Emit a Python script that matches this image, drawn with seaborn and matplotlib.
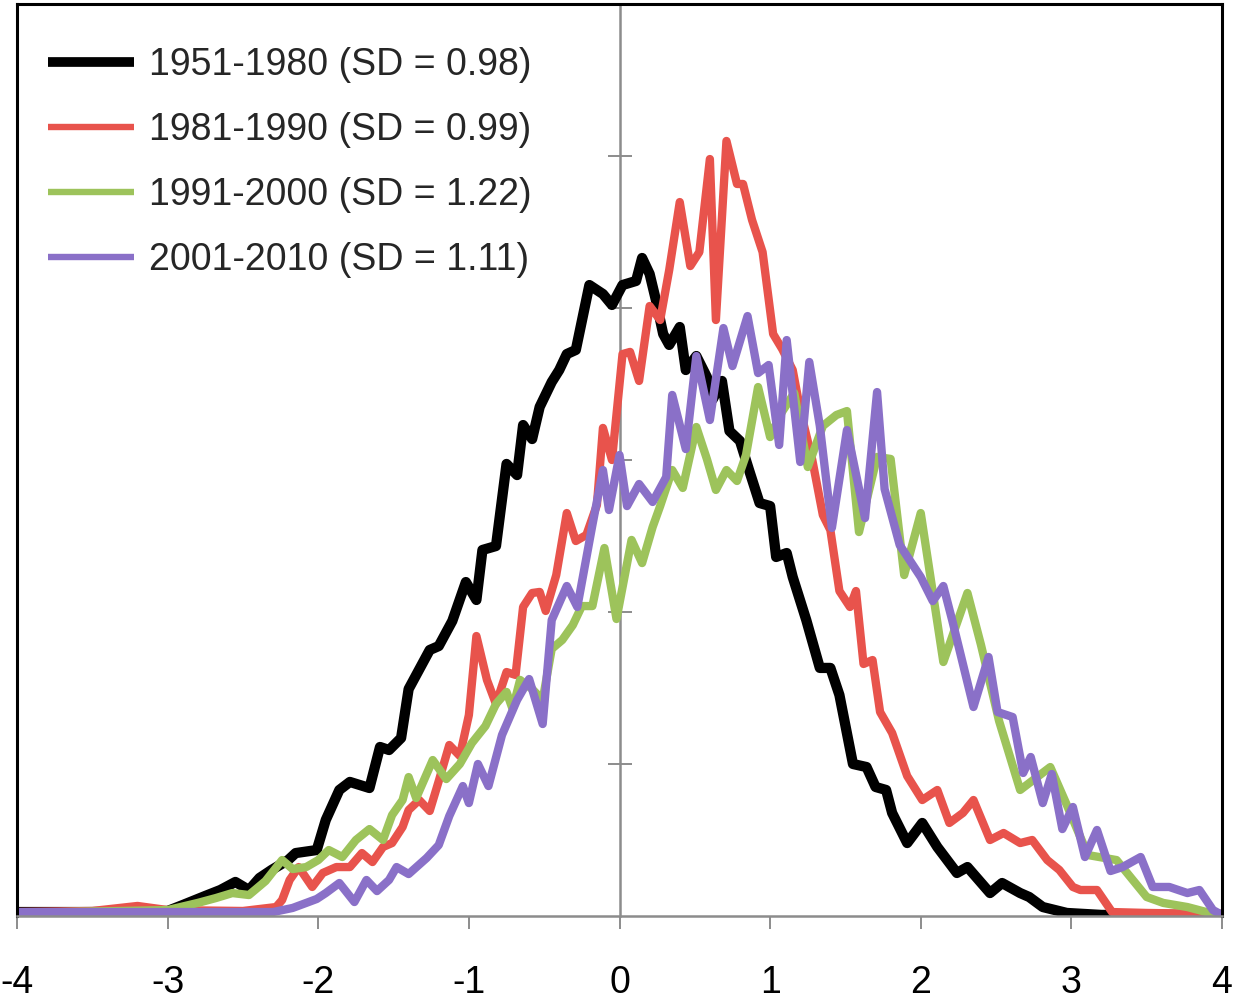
import matplotlib
matplotlib.use("Agg")
import matplotlib.pyplot as plt
import pandas as pd
import seaborn as sns

# Local temperature anomaly (in units of standard deviation) and frequency of occurrence
periods = ["1951-1980", "1981-1990", "1991-2000", "2001-2010"]
sd_values = [0.98, 0.99, 1.22, 1.11]

x_1951 = [-4.0, -3.5, -3.0, -2.9, -2.75, -2.65, -2.55, -2.46, -2.39, -2.31, -2.2, -2.15,
          -2.01, -1.95, -1.86, -1.79, -1.66, -1.59, -1.53, -1.45, -1.4, -1.26, -1.2, -1.11,
          -1.02, -0.95, -0.91, -0.82, -0.75, -0.68, -0.64, -0.58, -0.53, -0.45, -0.4, -0.35,
          -0.29, -0.25, -0.2, -0.11, -0.05, 0.02, 0.11, 0.15, 0.2, 0.24, 0.29, 0.33, 0.4,
          0.44, 0.51, 0.58, 0.62, 0.68, 0.73, 0.8, 0.86, 0.93, 1.0, 1.04, 1.11, 1.15, 1.24,
          1.33, 1.4, 1.46, 1.55, 1.64, 1.7, 1.77, 1.81, 1.91, 2.01, 2.11, 2.24, 2.31, 2.46,
          2.54, 2.66, 2.72, 2.81, 2.97, 3.2, 4.0]
f_1951 = [0.0026, 0.0026, 0.0033, 0.0072, 0.0132, 0.0171, 0.0224, 0.0171, 0.0250, 0.0303,
          0.0368, 0.0414, 0.0434, 0.0632, 0.0829, 0.0882, 0.0842, 0.1112, 0.1092, 0.1171,
          0.1493, 0.1750, 0.1776, 0.1941, 0.2197, 0.2079, 0.2408, 0.2434, 0.2974, 0.2901,
          0.3230, 0.3138, 0.3349, 0.3513, 0.3592, 0.3697, 0.3724, 0.3914, 0.4151, 0.4092,
          0.4020, 0.4151, 0.4178, 0.4329, 0.4224, 0.4059, 0.3829, 0.3757, 0.3875, 0.3592,
          0.3684, 0.3546, 0.3401, 0.3520, 0.3191, 0.3125, 0.2934, 0.2717, 0.2697, 0.2362,
          0.2388, 0.2230, 0.1947, 0.1632, 0.1632, 0.1454, 0.1000, 0.0980, 0.0849, 0.0829,
          0.0678, 0.0480, 0.0612, 0.0454, 0.0283, 0.0322, 0.0151, 0.0217, 0.0151, 0.0125,
          0.0059, 0.0020, 0.0007, 0.0007]

x_1981 = [-4.0, -3.5, -3.2, -3.0, -2.5, -2.28, -2.24, -2.19, -2.13, -2.04, -1.97, -1.88,
          -1.79, -1.71, -1.64, -1.57, -1.51, -1.44, -1.4, -1.33, -1.26, -1.2, -1.13, -1.06,
          -1.0, -0.95, -0.88, -0.82, -0.75, -0.69, -0.64, -0.58, -0.53, -0.49, -0.42, -0.35,
          -0.29, -0.22, -0.15, -0.11, -0.05, 0.02, 0.07, 0.13, 0.2, 0.27, 0.33, 0.4, 0.47,
          0.53, 0.6, 0.64, 0.71, 0.78, 0.82, 0.88, 0.95, 1.02, 1.08, 1.15, 1.2, 1.28, 1.35,
          1.4, 1.46, 1.53, 1.57, 1.62, 1.68, 1.73, 1.81, 1.91, 2.01, 2.11, 2.19, 2.28, 2.35,
          2.46, 2.55, 2.66, 2.74, 2.84, 2.92, 3.01, 3.06, 3.17, 3.27, 3.5, 4.0]
f_1981 = [0.0026, 0.0033, 0.0066, 0.0039, 0.0033, 0.0059, 0.0105, 0.0237, 0.0322, 0.0191,
          0.0283, 0.0322, 0.0322, 0.0414, 0.0355, 0.0454, 0.0480, 0.0586, 0.0697, 0.0763,
          0.0691, 0.0888, 0.1125, 0.1053, 0.1322, 0.1842, 0.1553, 0.1395, 0.1605, 0.1586,
          0.2033, 0.2125, 0.2132, 0.2007, 0.2243, 0.2651, 0.2467, 0.2507, 0.2704, 0.3211,
          0.3000, 0.3697, 0.3711, 0.3520, 0.4013, 0.3921, 0.4250, 0.4697, 0.4276, 0.4368,
          0.4980, 0.3921, 0.5099, 0.4816, 0.4816, 0.4579, 0.4368, 0.3829, 0.3730, 0.3592,
          0.3329, 0.3000, 0.2638, 0.2539, 0.2138, 0.2033, 0.2138, 0.1658, 0.1684, 0.1342,
          0.1204, 0.0921, 0.0763, 0.0829, 0.0612, 0.0678, 0.0763, 0.0500, 0.0546, 0.0480,
          0.0500, 0.0368, 0.0303, 0.0191, 0.0171, 0.0171, 0.0026, 0.0020, 0.0013]

x_1991 = [-4.0, -3.0, -2.8, -2.68, -2.57, -2.46, -2.35, -2.24, -2.17, -2.08, -2.0, -1.93,
          -1.84, -1.75, -1.66, -1.57, -1.51, -1.44, -1.4, -1.35, -1.24, -1.15, -1.06, -0.98,
          -0.89, -0.82, -0.75, -0.71, -0.66, -0.58, -0.51, -0.45, -0.38, -0.31, -0.25,
          -0.18, -0.1, -0.02, 0.08, 0.15, 0.22, 0.27, 0.35, 0.42, 0.51, 0.58, 0.64, 0.71,
          0.78, 0.84, 0.92, 1.0, 1.07, 1.16, 1.25, 1.35, 1.44, 1.51, 1.59, 1.71, 1.8, 1.89,
          2.0, 2.15, 2.31, 2.4, 2.52, 2.66, 2.86, 2.97, 3.11, 3.3, 3.5, 3.61, 3.77, 3.92, 4.0]
f_1991 = [0.0020, 0.0039, 0.0086, 0.0118, 0.0151, 0.0138, 0.0230, 0.0368, 0.0309, 0.0322,
          0.0368, 0.0434, 0.0388, 0.0500, 0.0572, 0.0500, 0.0664, 0.0763, 0.0914, 0.0776,
          0.1026, 0.0901, 0.1000, 0.1138, 0.1250, 0.1395, 0.1474, 0.1362, 0.1553, 0.1493,
          0.1421, 0.1757, 0.1816, 0.1914, 0.2039, 0.2039, 0.2421, 0.1954, 0.2474, 0.2322,
          0.2559, 0.2697, 0.2934, 0.2816, 0.3217, 0.3007, 0.2803, 0.2934, 0.2862, 0.3033,
          0.3480, 0.3151, 0.3303, 0.3441, 0.2954, 0.3224, 0.3296, 0.3322, 0.2526, 0.3020,
          0.3007, 0.2243, 0.2651, 0.1671, 0.2125, 0.1783, 0.1283, 0.0829, 0.0980, 0.0730,
          0.0401, 0.0368, 0.0125, 0.0086, 0.0059, 0.0020, 0.0007]

x_2001 = [-4.0, -3.0, -2.3, -2.17, -2.08, -2.01, -1.95, -1.86, -1.76, -1.68, -1.61, -1.53,
          -1.48, -1.4, -1.28, -1.2, -1.13, -1.04, -1.0, -0.94, -0.87, -0.78, -0.68, -0.6,
          -0.51, -0.45, -0.35, -0.28, -0.18, -0.11, -0.07, 0.0, 0.05, 0.13, 0.22, 0.31, 0.35,
          0.44, 0.51, 0.6, 0.69, 0.75, 0.85, 0.92, 0.99, 1.06, 1.11, 1.2, 1.26, 1.33, 1.41,
          1.51, 1.63, 1.71, 1.76, 1.86, 2.0, 2.08, 2.15, 2.21, 2.35, 2.45, 2.51, 2.61, 2.68,
          2.73, 2.81, 2.87, 2.94, 3.01, 3.09, 3.17, 3.26, 3.34, 3.46, 3.54, 3.65, 3.77, 3.85,
          3.94, 4.0]
f_2001 = [0.0026, 0.0026, 0.0026, 0.0053, 0.0086, 0.0112, 0.0151, 0.0217, 0.0092, 0.0237,
          0.0164, 0.0237, 0.0322, 0.0276, 0.0382, 0.0467, 0.0658, 0.0855, 0.0743, 0.1000,
          0.0855, 0.1191, 0.1421, 0.1559, 0.1263, 0.1947, 0.2171, 0.2033, 0.2572, 0.2934,
          0.2671, 0.3033, 0.2697, 0.2842, 0.2724, 0.2888, 0.3428, 0.3072, 0.3684, 0.3263,
          0.3868, 0.3618, 0.3947, 0.3572, 0.3625, 0.3099, 0.3789, 0.2987, 0.3645, 0.3224,
          0.2553, 0.3197, 0.2618, 0.3447, 0.2809, 0.2441, 0.2230, 0.2072, 0.2171, 0.1941,
          0.1375, 0.1704, 0.1342, 0.1309, 0.0941, 0.1046, 0.0743, 0.0934, 0.0572, 0.0717,
          0.0388, 0.0566, 0.0296, 0.0322, 0.0388, 0.0191, 0.0191, 0.0151, 0.0171, 0.0039,
          0.0007]

series_x = [x_1951, x_1981, x_1991, x_2001]
series_f = [f_1951, f_1981, f_1991, f_2001]
colors = ["#000000", "#E8534C", "#9DC35B", "#8A70C8"]
line_widths = [7.4, 6.0, 6.0, 6.0]
legend_widths = [7.0, 4.6, 4.6, 4.6]

sns.set_theme(style="white")
plt.rcParams["font.family"] = ["Liberation Sans", "DejaVu Sans"]
plt.rcParams["axes.unicode_minus"] = False

fig = plt.figure(figsize=(12.4, 10.01), dpi=100)
ax = fig.add_axes([17 / 1240, 85 / 1001, 1205 / 1240, 912 / 1001])

for period, sd, xs, fs, color, lw in zip(periods, sd_values, series_x, series_f,
                                         colors, line_widths):
    df = pd.DataFrame({"anomaly": xs, "frequency": fs})
    sns.lineplot(data=df, x="anomaly", y="frequency", ax=ax, color=color, linewidth=lw,
                 label=f"{period} (SD = {sd:.2f})", solid_joinstyle="round",
                 solid_capstyle="butt")

ax.set_xlim(-4, 4)
ax.set_ylim(0, 0.6)
ax.set_xticks(range(-4, 5))
ax.set_yticks([])
ax.set_xlabel("")
ax.set_ylabel("")

# Plot frame: black box with a grey horizontal axis along the bottom
for side in ("left", "top", "right"):
    ax.spines[side].set_color("black")
    ax.spines[side].set_linewidth(2.2)
ax.spines["bottom"].set_color("#8c8c8c")
ax.spines["bottom"].set_linewidth(1.8)
ax.tick_params(axis="x", bottom=True, direction="out", length=9, width=1.4,
               color="#8c8c8c", pad=26, labelsize=27, labelcolor="black")

# Vertical axis through zero with crossing tick marks
center = ax.secondary_yaxis(0.5)
center.set_yticks([0.1, 0.2, 0.3, 0.4, 0.5])
center.tick_params(axis="y", right=True, left=False, direction="inout", length=17,
                   width=1.4, color="#8c8c8c", labelright=False, labelleft=False)
for side in center.spines:
    center.spines[side].set_color("#8c8c8c")
    center.spines[side].set_linewidth(1.8)
center.set_zorder(1)

leg = ax.legend(loc="upper left", bbox_to_anchor=(31 / 1205, 1 - 43 / 912),
                frameon=False, fontsize=27, handlelength=2.3, handletextpad=0.4,
                labelspacing=0.77, borderpad=0, borderaxespad=0)
for handle, lw in zip(leg.get_lines(), legend_widths):
    handle.set_linewidth(lw)

fig.savefig("out.png", dpi=100)
